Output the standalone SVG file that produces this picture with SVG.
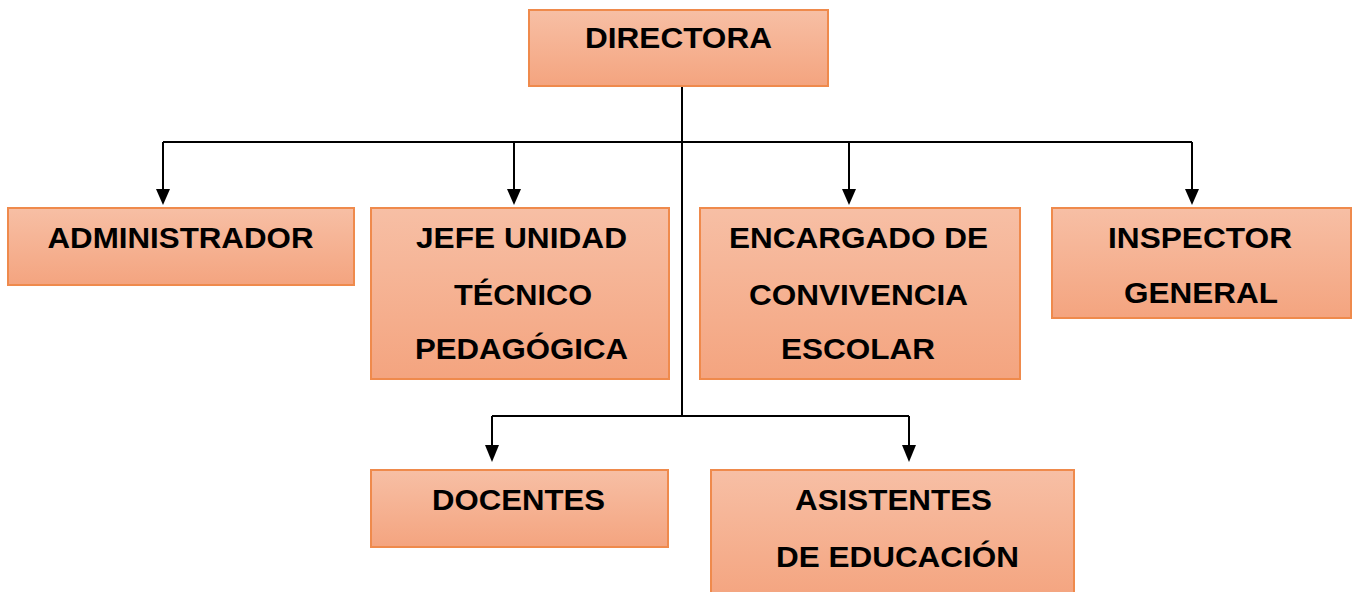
<svg xmlns="http://www.w3.org/2000/svg" width="1357" height="592" viewBox="0 0 1357 592">
<style>
.box{fill:url(#g);stroke:#EF8A4C;stroke-width:2}
.t{font-family:"Liberation Sans",Arial,sans-serif;font-weight:bold;font-size:29px;fill:#000;text-anchor:middle}
.c{fill:none;stroke:#000;stroke-width:2}
.ah{fill:#000}
</style>
<defs>
<linearGradient id="g" x1="0" y1="0" x2="0" y2="1">
<stop offset="0" stop-color="#F7BFA5"/>
<stop offset="1" stop-color="#F4A47F"/>
</linearGradient>
</defs>
<rect width="1357" height="592" fill="#fff"/>
<g id="connectors">
<path class="c" d="M682,86 V416"/>
<path class="c" d="M163,142 H1192"/>
<path class="c" d="M163,142 V190"/>
<path class="ah" d="M156,189 L170,189 L163,205 Z"/>
<path class="c" d="M514,142 V190"/>
<path class="ah" d="M507,189 L521,189 L514,205 Z"/>
<path class="c" d="M849,142 V190"/>
<path class="ah" d="M842,189 L856,189 L849,205 Z"/>
<path class="c" d="M1192,142 V190"/>
<path class="ah" d="M1185,189 L1199,189 L1192,205 Z"/>
<path class="c" d="M492,416 H909"/>
<path class="c" d="M492,416 V446"/>
<path class="ah" d="M485,445 L499,445 L492,462 Z"/>
<path class="c" d="M909,416 V446"/>
<path class="ah" d="M902,445 L916,445 L909,462 Z"/>
</g>
<g id="directora">
<rect class="box" x="529" y="10" width="299" height="76"/>
<text class="t" x="678.5" y="48" textLength="187" lengthAdjust="spacingAndGlyphs">DIRECTORA</text>
</g>
<g id="administrador">
<rect class="box" x="8" y="208" width="346" height="77"/>
<text class="t" x="180.5" y="248" textLength="266" lengthAdjust="spacingAndGlyphs">ADMINISTRADOR</text>
</g>
<g id="jefe-utp">
<rect class="box" x="371" y="208" width="298" height="171"/>
<text class="t" x="521.5" y="248" textLength="211" lengthAdjust="spacingAndGlyphs">JEFE UNIDAD</text>
<text class="t" x="523" y="305" textLength="138" lengthAdjust="spacingAndGlyphs">TÉCNICO</text>
<text class="t" x="521.5" y="359" textLength="213" lengthAdjust="spacingAndGlyphs">PEDAGÓGICA</text>
</g>
<g id="encargado">
<rect class="box" x="700" y="208" width="320" height="171"/>
<text class="t" x="858.5" y="248" textLength="259" lengthAdjust="spacingAndGlyphs">ENCARGADO DE</text>
<text class="t" x="858.5" y="305" textLength="219" lengthAdjust="spacingAndGlyphs">CONVIVENCIA</text>
<text class="t" x="858" y="359" textLength="154" lengthAdjust="spacingAndGlyphs">ESCOLAR</text>
</g>
<g id="inspector">
<rect class="box" x="1052" y="208" width="299" height="110"/>
<text class="t" x="1200" y="248" textLength="184" lengthAdjust="spacingAndGlyphs">INSPECTOR</text>
<text class="t" x="1201" y="303" textLength="154" lengthAdjust="spacingAndGlyphs">GENERAL</text>
</g>
<g id="docentes">
<rect class="box" x="371" y="470" width="297" height="77"/>
<text class="t" x="518.5" y="510" textLength="173" lengthAdjust="spacingAndGlyphs">DOCENTES</text>
</g>
<g id="asistentes">
<rect class="box" x="711" y="470" width="363" height="130"/>
<text class="t" x="893.5" y="510" textLength="197" lengthAdjust="spacingAndGlyphs">ASISTENTES</text>
<text class="t" x="897.5" y="567" textLength="243" lengthAdjust="spacingAndGlyphs">DE EDUCACIÓN</text>
</g>
</svg>
